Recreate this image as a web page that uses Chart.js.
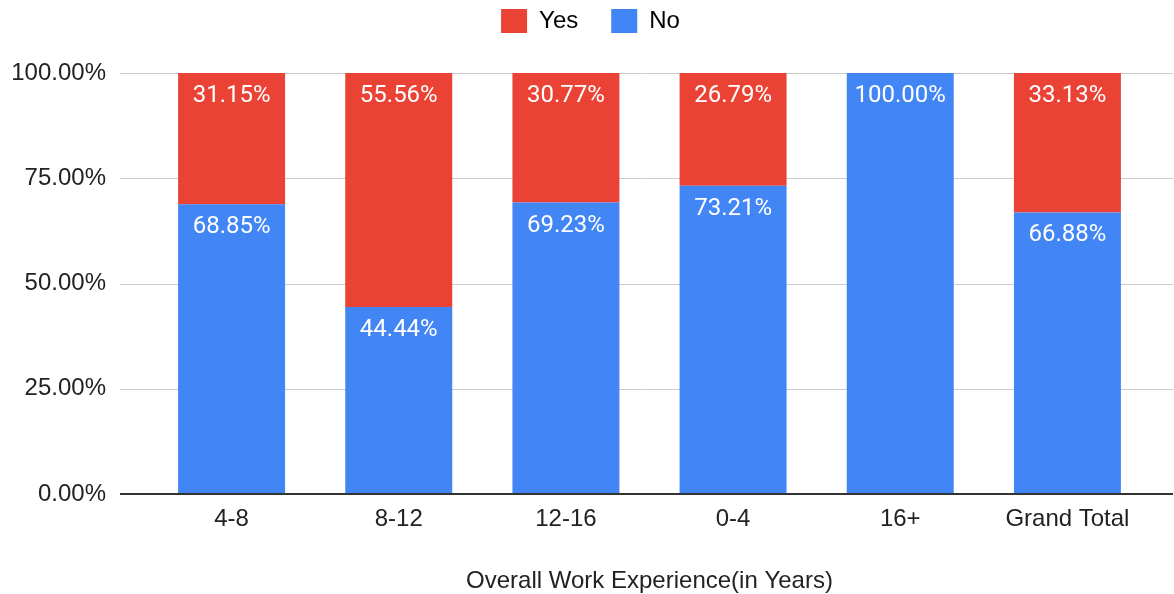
<!DOCTYPE html>
<html>
<head>
<meta charset="utf-8">
<script src="https://cdn.jsdelivr.net/npm/chart.js@4"></script>
<style>
  html, body { margin: 0; padding: 0; background: #fff; }
  #wrap { width: 1174px; height: 594px; position: relative; }
</style>
</head>
<body>
<div id="wrap"><canvas id="chart"></canvas></div>
<script>
// Chart data
const categories = ['4-8', '8-12', '12-16', '0-4', '16+', 'Grand Total'];
const noValues = [68.85, 44.44, 69.23, 73.21, 100.00, 66.88];
const yesValues = [31.15, 55.56, 30.77, 26.79, 0, 33.13];
const yTicks = [0, 25, 50, 75, 100];

const RED = '#ea4335';
const BLUE = '#4285f4';
const FONT = "'Liberation Sans', Arial, sans-serif";

// Horizontal grid lines that run past the bar area, like the original
const gridPlugin = {
    id: 'wideGrid',
    beforeLayout(chart) {
        // make room between the legend and the plot
        if (chart.legend && !chart.legend._patched) {
            const legend = chart.legend;
            const fit = legend.fit;
            legend.fit = function() {
                fit.call(this);
                this.height = 97;
            };
            legend._patched = true;
        }
    },
    afterLayout(chart) {
        // nudge the legend to the right, it sits over the bars not the canvas
        if (chart.legend) {
            chart.legend.left += 10;
            chart.legend.right += 10;
        }
    },
    beforeDatasetsDraw(chart) {
        const ctx = chart.ctx;
        const y = chart.scales.y;
        ctx.save();
        ctx.lineWidth = 1;
        ctx.strokeStyle = '#cccccc';
        yTicks.forEach(function(t) {
            if (t === 0) return;
            const py = Math.round(y.getPixelForValue(t)) + 0.5;
            ctx.beginPath();
            ctx.moveTo(120, py);
            ctx.lineTo(1173, py);
            ctx.stroke();
        });
        ctx.restore();
    },
    afterDatasetsDraw(chart) {
        // baseline on top of bars
        const ctx = chart.ctx;
        const py = Math.round(chart.scales.y.getPixelForValue(0));
        ctx.save();
        ctx.lineWidth = 2;
        ctx.strokeStyle = '#333333';
        ctx.beginPath();
        ctx.moveTo(120, py);
        ctx.lineTo(1173, py);
        ctx.stroke();
        ctx.restore();
    }
};

// Value labels at the top of each segment
const labelPlugin = {
    id: 'segLabels',
    afterDatasetsDraw(chart) {
        const ctx = chart.ctx;
        ctx.save();
        ctx.font = '24px Roboto';
        ctx.fillStyle = '#ffffff';
        ctx.textAlign = 'center';
        ctx.textBaseline = 'alphabetic';
        chart.data.datasets.forEach(function(ds, di) {
            const meta = chart.getDatasetMeta(di);
            meta.data.forEach(function(bar, i) {
                const v = ds.data[i];
                if (!v) return;
                ctx.fillText(v.toFixed(2) + '%', bar.x, bar.y + 29);
            });
        });
        ctx.restore();
    }
};

new Chart(document.getElementById('chart').getContext('2d'), {
    type: 'bar',
    data: {
        labels: categories,
        datasets: [
            { label: 'No', data: noValues, backgroundColor: BLUE, stack: 's' },
            { label: 'Yes', data: yesValues, backgroundColor: RED, stack: 's' }
        ]
    },
    options: {
        responsive: true,
        maintainAspectRatio: false,
        animation: false,
        layout: { padding: { left: 10, right: 23, top: -24, bottom: 0 } },
        categoryPercentage: 1,
        barPercentage: 0.64,
        plugins: {
            legend: {
                display: true,
                position: 'top',
                reverse: true,
                labels: {
                    font: { family: FONT, size: 24 },
                    color: '#222',
                    boxWidth: 26,
                    boxHeight: 24,
                    padding: 33,
                    generateLabels(chart) {
                        return chart.data.datasets.map(function(ds, i) {
                            return {
                                text: ds.label,
                                fillStyle: ds.backgroundColor,
                                strokeStyle: ds.backgroundColor,
                                lineWidth: 0,
                                datasetIndex: i
                            };
                        });
                    }
                }
            },
            tooltip: { enabled: false }
        },
        scales: {
            x: {
                stacked: true,
                grid: { display: false, drawTicks: false },
                border: { display: false },
                afterFit(axis) { axis.height = 100; },
                ticks: {
                    font: { family: FONT, size: 24 },
                    color: '#222',
                    padding: 11
                },
                title: {
                    display: true,
                    text: 'Overall Work Experience(in Years)',
                    font: { family: FONT, size: 24 },
                    color: '#222',
                    padding: { top: 20, bottom: -2 }
                }
            },
            y: {
                stacked: true,
                min: 0,
                max: 100,
                afterBuildTicks(axis) {
                    axis.ticks = yTicks.map(function(v) { return { value: v }; });
                },
                afterFit(axis) { axis.width = 138; },
                grid: { display: false, drawTicks: false },
                border: { display: false },
                ticks: {
                    font: { family: FONT, size: 24 },
                    color: '#222',
                    padding: 42,
                    callback: function(v) { return v.toFixed(2) + '%'; }
                }
            }
        }
    },
    plugins: [gridPlugin, labelPlugin]
});
</script>
</body>
</html>
